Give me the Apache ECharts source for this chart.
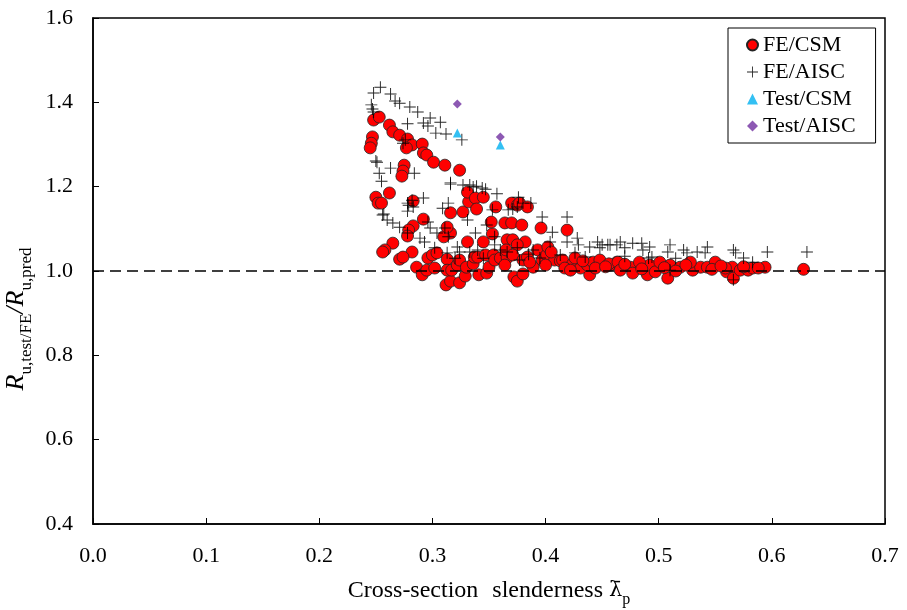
<!DOCTYPE html>
<html>
<head>
<meta charset="utf-8">
<script src="https://cdn.jsdelivr.net/npm/echarts@6/dist/echarts.min.js"></script>
<style>
  html, body { margin: 0; padding: 0; background: #fff; }
  #chart { width: 907px; height: 610px; }
</style>
</head>
<body>
<div id="chart"></div>
<script>
// [slenderness, ratio] pairs
const feCsm = [
  [0.248, 1.358], [0.253, 1.365], [0.247, 1.318], [0.246, 1.303], [0.245, 1.292],
  [0.262, 1.346], [0.265, 1.330], [0.271, 1.322], [0.278, 1.313], [0.282, 1.299],
  [0.277, 1.292], [0.291, 1.301], [0.292, 1.280], [0.295, 1.275], [0.301, 1.258],
  [0.311, 1.251], [0.324, 1.239], [0.275, 1.251], [0.274, 1.237], [0.273, 1.225],
  [0.250, 1.175], [0.252, 1.161], [0.255, 1.161], [0.262, 1.185], [0.283, 1.166],
  [0.292, 1.123], [0.316, 1.138], [0.327, 1.140], [0.332, 1.164], [0.331, 1.187],
  [0.338, 1.173], [0.339, 1.147], [0.345, 1.175], [0.356, 1.152], [0.283, 1.107],
  [0.279, 1.097], [0.278, 1.083], [0.265, 1.066], [0.258, 1.050], [0.256, 1.045],
  [0.282, 1.045], [0.271, 1.028], [0.274, 1.033], [0.316, 1.090], [0.310, 1.081],
  [0.313, 1.104], [0.353, 1.088], [0.352, 1.116], [0.331, 1.069], [0.345, 1.069],
  [0.366, 1.074], [0.364, 1.114], [0.370, 1.114], [0.370, 1.161], [0.375, 1.156],
  [0.377, 1.161], [0.384, 1.152], [0.379, 1.109], [0.396, 1.102], [0.419, 1.097],
  [0.382, 1.069], [0.371, 1.074], [0.375, 1.062], [0.312, 0.967], [0.316, 0.976],
  [0.324, 0.972], [0.329, 0.988], [0.341, 0.991], [0.348, 0.995], [0.350, 1.009],
  [0.372, 0.986], [0.375, 0.976], [0.380, 0.993], [0.439, 0.991], [0.286, 1.009],
  [0.291, 0.991], [0.295, 1.002], [0.302, 1.007], [0.296, 1.031], [0.300, 1.038],
  [0.304, 1.043], [0.313, 1.028], [0.313, 1.002], [0.317, 1.002], [0.322, 1.014],
  [0.324, 1.026], [0.330, 1.009], [0.336, 1.017], [0.337, 1.033], [0.340, 1.033],
  [0.347, 1.038], [0.354, 1.038], [0.355, 1.026], [0.360, 1.031], [0.366, 1.031],
  [0.365, 1.050], [0.371, 1.038], [0.380, 1.026], [0.384, 1.033], [0.389, 1.009],
  [0.393, 1.050], [0.397, 1.026], [0.401, 1.038], [0.402, 1.057], [0.408, 1.026],
  [0.413, 1.024], [0.415, 1.026], [0.424, 1.017], [0.431, 1.007], [0.437, 1.014],
  [0.442, 1.021], [0.448, 1.026], [0.457, 1.014], [0.463, 1.021], [0.456, 1.017],
  [0.464, 1.021], [0.475, 1.009], [0.477, 0.995], [0.490, 0.991], [0.492, 1.014],
  [0.497, 0.998], [0.508, 0.983], [0.510, 1.014], [0.519, 1.009], [0.530, 1.002],
  [0.537, 1.009], [0.543, 1.009], [0.560, 0.998], [0.565, 1.009], [0.566, 0.983],
  [0.572, 1.002], [0.579, 1.002], [0.583, 1.007], [0.594, 1.009], [0.628, 1.004],
  [0.400, 1.014], [0.417, 1.007], [0.426, 1.031], [0.444, 1.007], [0.466, 1.002],
  [0.483, 1.021], [0.501, 1.021], [0.528, 1.021], [0.550, 1.021], [0.559, 1.007],
  [0.588, 1.007], [0.422, 1.002], [0.364, 1.014], [0.485, 1.005], [0.515, 1.000],
  [0.405, 1.045], [0.433, 1.024], [0.453, 1.010], [0.470, 1.016], [0.505, 1.008],
  [0.524, 1.014], [0.547, 1.004], [0.555, 1.012], [0.575, 1.010], [0.386, 1.021]
];

const feAisc = [
  [0.254, 1.436], [0.248, 1.422], [0.263, 1.420], [0.267, 1.403], [0.271, 1.398],
  [0.246, 1.394], [0.247, 1.384], [0.248, 1.377], [0.280, 1.389], [0.287, 1.377],
  [0.298, 1.363], [0.307, 1.353], [0.278, 1.349], [0.292, 1.351], [0.296, 1.344],
  [0.303, 1.327], [0.312, 1.325], [0.274, 1.303], [0.251, 1.258], [0.263, 1.244],
  [0.253, 1.232], [0.255, 1.213], [0.284, 1.232], [0.282, 1.168], [0.292, 1.173],
  [0.279, 1.156], [0.278, 1.142], [0.283, 1.152], [0.256, 1.133], [0.309, 1.149],
  [0.316, 1.209], [0.326, 1.311], [0.250, 1.261], [0.276, 1.311], [0.278, 1.161],
  [0.257, 1.135], [0.260, 1.121], [0.265, 1.114], [0.271, 1.104], [0.278, 1.090],
  [0.289, 1.078], [0.293, 1.069], [0.302, 1.055], [0.313, 1.043], [0.322, 1.057],
  [0.324, 1.045], [0.333, 1.045], [0.340, 1.050], [0.360, 1.050], [0.366, 1.045],
  [0.375, 1.055], [0.389, 1.050], [0.406, 1.092], [0.404, 1.069], [0.419, 1.069],
  [0.428, 1.078], [0.429, 1.062], [0.439, 1.057], [0.446, 1.069], [0.448, 1.055],
  [0.455, 1.062], [0.463, 1.062], [0.316, 1.206], [0.327, 1.204], [0.333, 1.204],
  [0.336, 1.199], [0.339, 1.201], [0.344, 1.197], [0.347, 1.194], [0.357, 1.183],
  [0.376, 1.175], [0.380, 1.161], [0.387, 1.161], [0.375, 1.152], [0.367, 1.145],
  [0.371, 1.147], [0.397, 1.128], [0.419, 1.128], [0.314, 1.161], [0.331, 1.121],
  [0.338, 1.090], [0.353, 1.145], [0.348, 1.109], [0.355, 1.081], [0.296, 1.116],
  [0.298, 1.102], [0.304, 1.090], [0.311, 1.102], [0.314, 1.081], [0.450, 1.062],
  [0.457, 1.062], [0.466, 1.069], [0.470, 1.055], [0.477, 1.066], [0.485, 1.066],
  [0.486, 1.050], [0.492, 1.057], [0.494, 1.033], [0.510, 1.062], [0.508, 1.045],
  [0.522, 1.050], [0.525, 1.043], [0.534, 1.045], [0.543, 1.057], [0.541, 1.043],
  [0.566, 1.050], [0.568, 1.043], [0.575, 1.031], [0.583, 1.021], [0.596, 1.045],
  [0.631, 1.045], [0.566, 0.979], [0.510, 1.002], [0.491, 1.031], [0.377, 1.026],
  [0.395, 1.031], [0.413, 1.038], [0.426, 1.043], [0.435, 1.033], [0.345, 1.030],
  [0.320, 1.030], [0.355, 1.062], [0.385, 1.040], [0.470, 1.035], [0.515, 1.030]
];

const testCsm = [[0.322, 1.327], [0.360, 1.299]];
const testAisc = [[0.322, 1.396], [0.360, 1.318]];

const xTicks = { min: 0, max: 0.7, step: 0.1 };
const yTicks = { min: 0.4, max: 1.6, step: 0.2 };

const serif = '"Liberation Serif", "DejaVu Serif", serif';
const plus = 'path://M4.6,0h0.8v4.6h4.6v0.8h-4.6v4.6h-0.8v-4.6h-4.6v-0.8h4.6z';

const chart = echarts.init(document.getElementById('chart'), null, { renderer: 'canvas' });

const option = {
  backgroundColor: '#fff',
  animation: false,
  textStyle: { fontFamily: serif, color: '#000' },
  grid: {
    left: 93, right: 22, top: 18, bottom: 86,
    outerBoundsMode: 'none',
    containLabel: false,
    show: true, borderColor: '#000', borderWidth: 1.5
  },
  legend: {
    orient: 'vertical',
    left: 728, top: 28,
    padding: [6, 20, 6, 18],
    itemGap: 5,
    itemWidth: 11, itemHeight: 11,
    borderColor: '#000', borderWidth: 1,
    backgroundColor: '#fff',
    textStyle: { fontFamily: serif, fontSize: 22, color: '#000' },
    data: [
      { name: 'FE/CSM', icon: 'circle' },
      { name: 'FE/AISC', icon: plus },
      { name: 'Test/CSM', icon: 'triangle' },
      { name: 'Test/AISC', icon: 'diamond' }
    ]
  },
  xAxis: {
    type: 'value',
    min: xTicks.min, max: xTicks.max, interval: xTicks.step,
    name: '{t|Cross-section}{t2|slenderness }{l|λ\u0304}{s|p}',
    nameLocation: 'middle',
    nameGap: 53,
    nameTextStyle: {
      rich: {
        t: { fontFamily: serif, fontSize: 24, color: '#000', lineHeight: 28, verticalAlign: 'middle', padding: [0, 14, 0, 0] },
        t2: { fontFamily: serif, fontSize: 24, color: '#000', lineHeight: 28, verticalAlign: 'middle' },
        l: { fontFamily: '"DejaVu Serif", serif', fontSize: 21, color: '#000', lineHeight: 28, verticalAlign: 'middle' },
        s: { fontFamily: serif, fontSize: 16, color: '#000', lineHeight: 28, verticalAlign: 'bottom', padding: [0, 0, -3, 0] }
      }
    },
    axisLine: { lineStyle: { color: '#000', width: 1.5 } },
    axisTick: { inside: true, length: 6, lineStyle: { color: '#000' } },
    axisLabel: { fontFamily: serif, fontSize: 22, color: '#000', margin: 21, formatter: v => v.toFixed(1) },
    splitLine: { show: false }
  },
  yAxis: {
    type: 'value',
    min: yTicks.min, max: yTicks.max, interval: yTicks.step,
    name: '{r|R}{s|u,test/FE}{r|/R}{s|u,pred}',
    nameLocation: 'middle',
    nameGap: 52,
    nameRotate: 90,
    nameTextStyle: {
      padding: [0, 96, 0, 0],
      rich: {
        r: { fontFamily: serif, fontSize: 26, fontStyle: 'italic', color: '#000', lineHeight: 32, verticalAlign: 'middle' },
        s: { fontFamily: serif, fontSize: 17, color: '#000', lineHeight: 32, verticalAlign: 'bottom', padding: [0, 0, -2, 0] }
      }
    },
    axisLine: { lineStyle: { color: '#000', width: 1.5 } },
    axisTick: { inside: true, length: 6, lineStyle: { color: '#000' } },
    axisLabel: { fontFamily: serif, fontSize: 22, color: '#000', margin: 20, formatter: v => v.toFixed(1) },
    splitLine: { show: false }
  },
  series: [
    {
      name: 'FE/CSM',
      type: 'scatter',
      data: feCsm,
      symbol: 'circle',
      symbolSize: 12,
      itemStyle: { color: '#ff0000', borderColor: '#222', borderWidth: 0.8, opacity: 1 },
      markLine: {
        silent: true,
        symbol: 'none',
        label: { show: false },
        lineStyle: { color: '#000', type: [11, 6], width: 1.5 },
        data: [{ yAxis: 1.0 }]
      },
      z: 2
    },
    {
      name: 'FE/AISC',
      type: 'scatter',
      data: feAisc,
      symbol: plus,
      symbolSize: 12,
      itemStyle: { color: '#000', opacity: 0.85 },
      z: 3
    },
    {
      name: 'Test/CSM',
      type: 'scatter',
      data: testCsm,
      symbol: 'triangle',
      symbolSize: 9,
      itemStyle: { color: '#00b0f0' },
      z: 4
    },
    {
      name: 'Test/AISC',
      type: 'scatter',
      data: testAisc,
      symbol: 'diamond',
      symbolSize: 9,
      itemStyle: { color: '#7030a0' },
      z: 4
    }
  ]
};

chart.setOption(option);
window.addEventListener('resize', chart.resize);
</script>
</body>
</html>
